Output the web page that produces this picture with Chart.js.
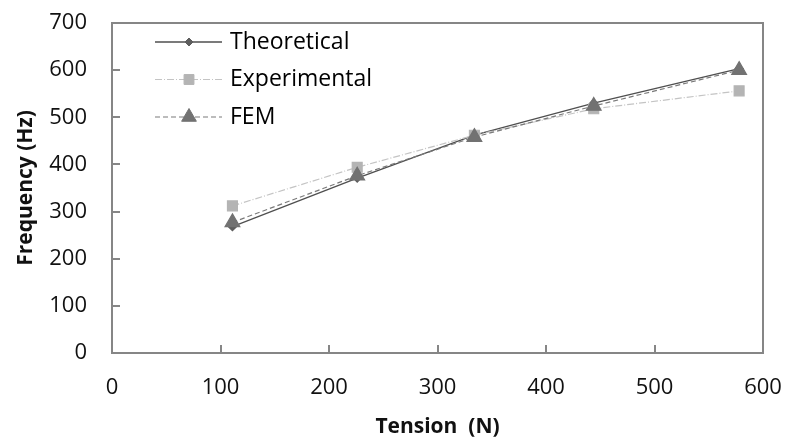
<!DOCTYPE html>
<html lang="en">
<head>
  <meta charset="utf-8" />
  <title>Frequency vs Tension</title>
  <style>
html, body { margin: 0; padding: 0; background: #fff; }
#chartBox { width: 788px; height: 443px; }
  </style>
</head>
<body>
  <div id="chartBox">
    <canvas id="myChart"></canvas>
  </div>
  <script src="https://cdn.jsdelivr.net/npm/chart.js"></script>
  <script>
// values
const tension      = [111, 226, 334, 444, 578];
const theoretical  = [268, 371, 462, 530, 603];
const experimental = [312, 394, 462, 518, 556];
const fem          = [277, 376, 458, 524, 600];
const seriesNames  = ['Theoretical', 'Experimental', 'FEM'];
const xTitle = 'Tension  (N)';
const yTitle = 'Frequency (Hz)';

const AXIS = '#868686';
const FONT = '"Open Sans", "DejaVu Sans", sans-serif';

function pts(ys) {
  return tension.map((x, i) => ({x: x, y: ys[i]}));
}

// box top/right + inward tick marks, and the legend drawn like Excel (line + marker)
const excelLook = {
  id: 'excelLook',
  beforeDatasetsDraw(chart) {
    const {ctx, chartArea: a, scales} = chart;
    ctx.save();
    ctx.strokeStyle = AXIS;
    ctx.lineWidth = 2;
    ctx.beginPath();
    ctx.moveTo(a.left, a.top); ctx.lineTo(a.right, a.top); ctx.lineTo(a.right, a.bottom);
    scales.x.ticks.forEach(t => {
      const px = Math.round(scales.x.getPixelForValue(t.value));
      ctx.moveTo(px, a.bottom); ctx.lineTo(px, a.bottom - 8);
    });
    scales.y.ticks.forEach(t => {
      const py = Math.round(scales.y.getPixelForValue(t.value));
      ctx.moveTo(a.left, py); ctx.lineTo(a.left + 8, py);
    });
    ctx.stroke();
    ctx.restore();
  },
  afterDraw(chart) {
    const ctx = chart.ctx;
    ctx.save();
    chart.data.datasets.forEach((ds, i) => {
      const y = 42 + i * 37.5;
      ctx.strokeStyle = ds.borderColor;
      ctx.lineWidth = ds.borderWidth;
      ctx.setLineDash(ds.borderDash || []);
      ctx.beginPath();
      ctx.moveTo(155, y); ctx.lineTo(222, y);
      ctx.stroke();
      ctx.setLineDash([]);
      ctx.fillStyle = ds.pointBackgroundColor;
      ctx.strokeStyle = ds.pointBorderColor;
      ctx.lineWidth = 1;
      Chart.helpers.drawPoint(ctx, {pointStyle: ds.pointStyle, rotation: 0, radius: ds.pointRadius, borderWidth: 1}, 189, y);
      ctx.fillStyle = '#000';
      ctx.font = '23px ' + FONT;
      ctx.textBaseline = 'middle';
      ctx.textAlign = 'left';
      ctx.fillText(ds.label, 230, y);
    });
    ctx.restore();
  }
};

const config = {
  type: 'line',
  data: {
    datasets: [{
      label: seriesNames[0],
      data: pts(theoretical),
      borderColor: '#4f4f4f',
      borderWidth: 1.3,
      pointStyle: 'rectRot',
      pointRadius: 4,
      pointBackgroundColor: '#5e5e5e',
      pointBorderColor: '#5e5e5e',
      order: 2
    }, {
      label: seriesNames[1],
      data: pts(experimental),
      borderColor: '#c4c4c4',
      borderWidth: 1.2,
      borderDash: [7, 2, 1, 2],
      pointStyle: 'rect',
      pointRadius: 7,
      pointBackgroundColor: '#b4b4b4',
      pointBorderColor: '#b4b4b4',
      order: 1
    }, {
      label: seriesNames[2],
      data: pts(fem),
      borderColor: '#7a7a7a',
      borderWidth: 1.2,
      borderDash: [5, 3],
      pointStyle: 'triangle',
      pointRadius: 8.5,
      pointBackgroundColor: '#727272',
      pointBorderColor: '#727272',
      order: 0
    }]
  },
  options: {
    responsive: true,
    maintainAspectRatio: false,
    animation: false,
    layout: { padding: { top: 23, right: 25, left: 0, bottom: 0 } },
    plugins: {
      legend: { display: false },
      tooltip: { enabled: false }
    },
    scales: {
      x: {
        type: 'linear',
        min: 0, max: 600,
        ticks: { stepSize: 100, padding: 22, color: '#111', font: { family: FONT, size: 22 } },
        grid: { display: false, drawTicks: false },
        border: { display: true, color: AXIS, width: 2 },
        title: { display: true, text: xTitle, color: '#111', padding: { top: 2, bottom: 3 },
                 font: { family: FONT, size: 21, weight: 'bold' } },
        afterFit(s) { s.height = 90; s.paddingLeft = 0; s.paddingRight = 0; }
      },
      y: {
        min: 0, max: 700,
        ticks: { stepSize: 100, padding: 25, color: '#111', font: { family: FONT, size: 22 } },
        grid: { display: false, drawTicks: false },
        border: { display: true, color: AXIS, width: 2 },
        title: { display: true, text: yTitle, color: '#111', padding: { top: 13, bottom: 0 },
                 font: { family: FONT, size: 21, weight: 'bold' } },
        afterFit(s) { s.width = 112; s.paddingTop = 0; s.paddingBottom = 0; }
      }
    }
  },
  plugins: [excelLook]
};

const chart = new Chart(document.getElementById('myChart'), config);
  </script>
</body>
</html>
